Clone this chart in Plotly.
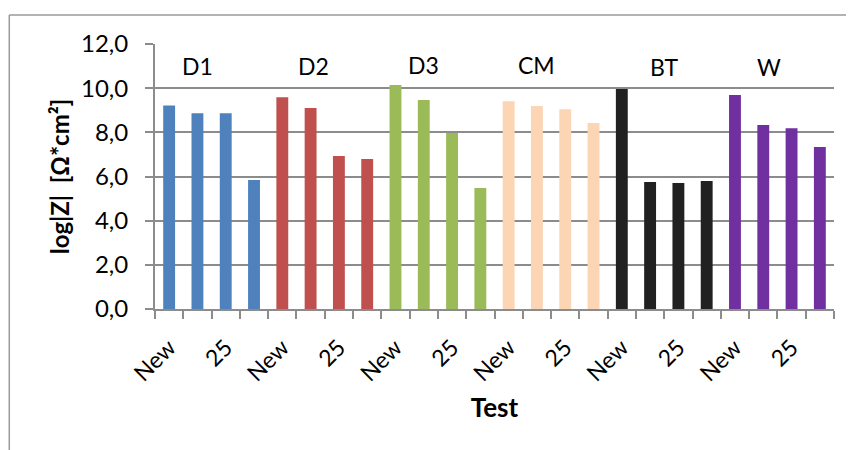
import plotly.graph_objects as go

groups = ["D1", "D2", "D3", "CM", "BT", "W"]
colors = ["#4F81BD", "#C0504D", "#9BBB59", "#FCD5B4", "#212121", "#7030A0"]
values = {
    "D1": [9.22, 8.86, 8.86, 5.84],
    "D2": [9.59, 9.10, 6.93, 6.79],
    "D3": [10.14, 9.46, 7.97, 5.48],
    "CM": [9.41, 9.19, 9.05, 8.42],
    "BT": [9.96, 5.75, 5.71, 5.80],
    "W":  [9.69, 8.33, 8.19, 7.34],
}
shown_tick_labels = ["New", "25"]   # Excel shows every other category label
group_label_x = [1.0, 5.1, 9.0, 13.0, 17.5, 21.2]
group_label_y = [11.0, 11.0, 11.05, 11.05, 10.95, 10.95]

n_per_group = 4
fig = go.Figure()
for gi, g in enumerate(groups):
    xs = [gi * n_per_group + k for k in range(n_per_group)]
    fig.add_trace(go.Bar(x=xs, y=values[g], marker=dict(color=colors[gi], line=dict(width=0)),
                         width=0.42, showlegend=False, name=g))

n_total = len(groups) * n_per_group
tickvals = list(range(0, n_total, 2))
ticktext = [shown_tick_labels[i % 2] for i in range(len(tickvals))]

font_family = "Lato, 'Open Sans', sans-serif"
grid_c = "#8c8c8c"

# page body has an 8px default margin, so the figure is 8px smaller
fig.update_layout(
    width=846, height=442,
    margin=dict(l=147, r=20, t=36, b=141),
    paper_bgcolor="white", plot_bgcolor="white",
    separators=", ",
    font=dict(family=font_family, size=23, color="black"),
    xaxis=dict(
        automargin=False,
        range=[-0.5, n_total - 0.5],
        tickmode="array", tickvals=tickvals, ticktext=ticktext,
        tickangle=-45, ticks="", ticklen=0,
        showline=True, linecolor=grid_c, linewidth=2,
        showgrid=False, zeroline=False,
        tickfont=dict(size=23),
        ticklabelstandoff=14,
        minor=dict(tickmode="linear", tick0=-0.5, dtick=1, ticks="outside",
                   ticklen=8, tickcolor=grid_c, tickwidth=2, showgrid=False),
        title=dict(text="<b>Test</b>", font=dict(size=26), standoff=14),
    ),
    yaxis=dict(
        automargin=False,
        range=[0, 12], dtick=2, tickformat=".1f",
        showgrid=True, gridcolor=grid_c, gridwidth=2,
        showline=True, linecolor=grid_c, linewidth=2,
        ticks="outside", ticklen=8, tickcolor=grid_c, tickwidth=2,
        ticklabelstandoff=12,
        zeroline=False, tickfont=dict(size=24),
        title=dict(text="<b>log|Z|  [Ω*cm²]</b>", font=dict(size=24), standoff=5),
    ),
)

for g, gx, gy in zip(groups, group_label_x, group_label_y):
    fig.add_annotation(x=gx, y=gy, text=g, showarrow=False, xref="x", yref="y",
                       font=dict(size=23, color="black"))

# outer chart border (top and left edges visible)
fig.add_shape(type="line", xref="paper", yref="paper", x0=-0.2146, x1=1.2, y0=1.109, y1=1.109,
              line=dict(color="#9a9a9a", width=1.5))
fig.add_shape(type="line", xref="paper", yref="paper", x0=-0.2146, x1=-0.2146, y0=1.109, y1=-0.7,
              line=dict(color="#9a9a9a", width=1.5))

fig.write_html("out.html")
